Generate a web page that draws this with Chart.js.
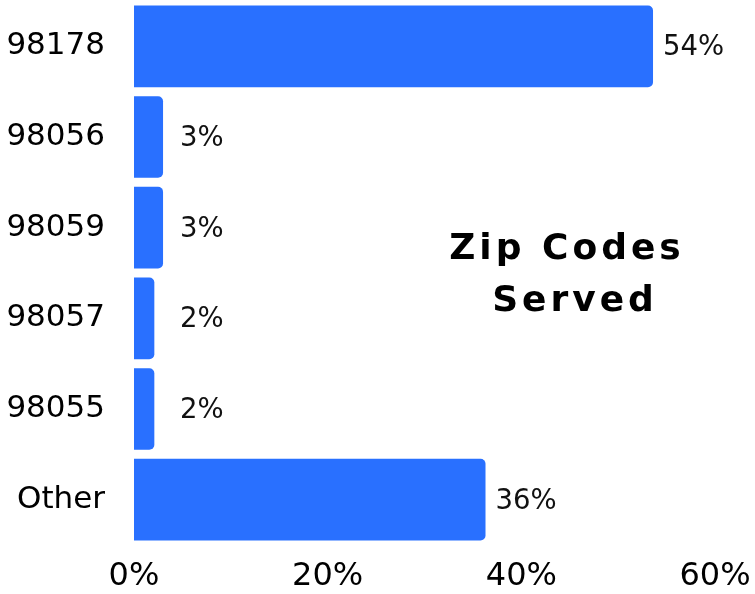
<!DOCTYPE html>
<html>
<head>
<meta charset="utf-8">
<script src="https://cdn.jsdelivr.net/npm/chart.js@4"></script>
<style>
  html, body { margin: 0; padding: 0; background: #fff; }
  #wrap { width: 755px; height: 594px; }
</style>
</head>
<body>
<div id="wrap"><canvas id="chart" width="755" height="594"></canvas></div>
<script>
const zipCodes = ['98178', '98056', '98059', '98057', '98055', 'Other'];
const sharePercent = [53.6, 3, 3, 2.1, 2.1, 36.3];
const axisTicks = [0, 20, 40, 60];
const titleLines = ['Zip Codes', 'Served'];

const BAR_COLOR = '#2970ff';
const FONT = 'DejaVu Sans';

// labels at the end of each bar
const barLabels = {
  id: 'barLabels',
  afterDatasetsDraw(chart) {
    const { ctx } = chart;
    const meta = chart.getDatasetMeta(0);
    const base = chart.scales.x.getPixelForValue(0);
    ctx.save();
    ctx.font = `27.5px "${FONT}"`;
    ctx.fillStyle = '#111';
    ctx.textAlign = 'left';
    ctx.textBaseline = 'middle';
    meta.data.forEach((bar, i) => {
      const x = Math.max(bar.x + 10, base + 46);
      ctx.fillText(Math.round(sharePercent[i]) + '%', x, bar.y + 2);
    });
    ctx.restore();
  },
};

// title sits inside the plot, right side
const innerTitle = {
  id: 'innerTitle',
  afterDraw(chart) {
    const { ctx } = chart;
    ctx.save();
    ctx.font = `bold 36px "${FONT}"`;
    ctx.letterSpacing = '4px';
    ctx.fillStyle = '#000';
    ctx.textAlign = 'center';
    ctx.textBaseline = 'middle';
    ctx.fillText(titleLines[0], 567, 250);
    ctx.fillText(titleLines[1], 575, 302);
    ctx.restore();
  },
};

new Chart(document.getElementById('chart'), {
  type: 'bar',
  data: {
    labels: zipCodes,
    datasets: [{
      data: sharePercent,
      backgroundColor: BAR_COLOR,
      borderRadius: 5,
      borderSkipped: 'start',
      categoryPercentage: 1,
      barPercentage: 0.9,
    }],
  },
  options: {
    indexAxis: 'y',
    responsive: false,
    animation: false,
    layout: { padding: { top: 1, right: 40, bottom: 0, left: 0 } },
    plugins: {
      legend: { display: false },
      tooltip: { enabled: false },
    },
    scales: {
      x: {
        min: 0,
        max: 60,
        afterBuildTicks: axis => {
          axis.ticks = axisTicks.map(v => ({ value: v }));
        },
        afterFit: s => {
          s.height = 49;
          s.paddingLeft = 0;
          s.paddingRight = 0;
        },
        grid: { display: false, drawTicks: false },
        border: { display: false },
        ticks: {
          color: '#000',
          font: { family: FONT, size: 32 },
          padding: 12,
          maxRotation: 0,
          callback: v => v + '%',
        },
      },
      y: {
        afterFit: s => {
          s.width = 134;
          s.paddingTop = 0;
          s.paddingBottom = 0;
        },
        grid: { display: false, drawTicks: false },
        border: { display: false },
        ticks: {
          color: '#000',
          font: { family: FONT, size: 31 },
          padding: 29,
        },
      },
    },
  },
  plugins: [barLabels, innerTitle],
});
</script>
</body>
</html>
